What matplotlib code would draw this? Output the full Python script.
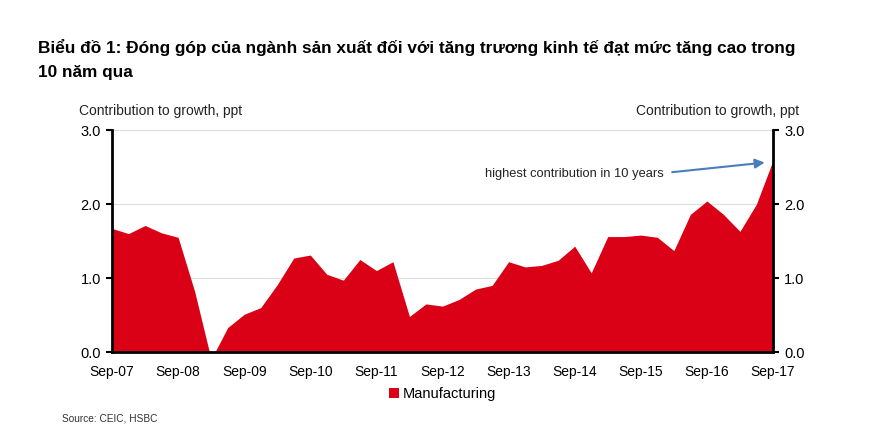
import matplotlib
matplotlib.use("Agg")
import matplotlib.pyplot as plt
import numpy as np

plt.rcParams['font.family'] = ['Liberation Sans', 'DejaVu Sans']

quarters = ["Sep-07", "Dec-07", "Mar-08", "Jun-08", "Sep-08", "Dec-08", "Mar-09", "Jun-09",
            "Sep-09", "Dec-09", "Mar-10", "Jun-10", "Sep-10", "Dec-10", "Mar-11", "Jun-11",
            "Sep-11", "Dec-11", "Mar-12", "Jun-12", "Sep-12", "Dec-12", "Mar-13", "Jun-13",
            "Sep-13", "Dec-13", "Mar-14", "Jun-14", "Sep-14", "Dec-14", "Mar-15", "Jun-15",
            "Sep-15", "Dec-15", "Mar-16", "Jun-16", "Sep-16", "Dec-16", "Mar-17", "Jun-17",
            "Sep-17"]
manufacturing = [1.67, 1.60, 1.71, 1.61, 1.55, 0.82, -0.10, 0.33,
                 0.51, 0.60, 0.91, 1.27, 1.31, 1.05, 0.97, 1.25,
                 1.10, 1.22, 0.48, 0.65, 0.62, 0.71, 0.85, 0.90,
                 1.22, 1.15, 1.17, 1.24, 1.43, 1.07, 1.56, 1.56,
                 1.58, 1.55, 1.37, 1.86, 2.04, 1.86, 1.63, 2.00,
                 2.59]
tick_labels = ["Sep-07", "Sep-08", "Sep-09", "Sep-10", "Sep-11", "Sep-12",
               "Sep-13", "Sep-14", "Sep-15", "Sep-16", "Sep-17"]
y_ticks = [0.0, 1.0, 2.0, 3.0]

red = '#da0015'
W, H = 872, 448
fig = plt.figure(figsize=(W / 100, H / 100), dpi=100)
ax = fig.add_axes([112 / W, 1 - 352 / H, (773 - 112) / W, (352 - 130) / H])

x = np.arange(len(quarters))
y = np.array(manufacturing)
ax.fill_between(x, 0, y, color=red, linewidth=0, zorder=2, label="Manufacturing")

ax.set_xlim(0, len(quarters) - 1)
ax.set_ylim(0, 3.0)
ax.set_yticks(y_ticks)
ax.set_yticklabels([f"{v:.1f}" for v in y_ticks])
ax.set_xticks([i for i, q in enumerate(quarters) if q in tick_labels])
ax.set_xticklabels(tick_labels)
ax.grid(axis='y', color='#dddddd', linewidth=0.8, zorder=0)
ax.set_axisbelow(True)

ax.spines['top'].set_visible(False)
for s in ['left', 'right', 'bottom']:
    ax.spines[s].set_linewidth(2.0)
    ax.spines[s].set_color('black')
    ax.spines[s].set_zorder(3)

ax.tick_params(axis='y', labelsize=10.5, length=4, width=1.5, pad=4, left=True, right=True,
               labelleft=True, labelright=True, colors='black')
ax.tick_params(axis='x', labelsize=10, length=0, pad=9)

ax.text(-0.05, 1.055, "Contribution to growth, ppt", transform=ax.transAxes,
        ha='left', va='bottom', fontsize=10, color='#222222')
ax.text(1.04, 1.055, "Contribution to growth, ppt", transform=ax.transAxes,
        ha='right', va='bottom', fontsize=10, color='#222222')

ax.annotate("", xy=(39.5, 2.56), xytext=(33.9, 2.43),
            arrowprops=dict(arrowstyle='-|>', color='#4a7ebb', lw=1.5,
                            mutation_scale=14, shrinkA=0, shrinkB=0), zorder=5)
ax.text(33.4, 2.41, "highest contribution in 10 years", ha='right', va='center',
        fontsize=9.3, color='#222222')

leg = ax.legend(loc='upper center', bbox_to_anchor=(0.50, -0.1), frameon=False,
                fontsize=10.5, handlelength=0.7, handleheight=0.7, handletextpad=0.3)

fig.text(38 / W, 1 - 48 / H,
         "Biểu đồ 1: Đóng góp của ngành sản xuất đối với tăng trương kinh tế đạt mức tăng cao trong",
         ha='left', va='center', fontsize=12.4, fontweight='bold', color='black')
fig.text(38 / W, 1 - 73 / H, "10 năm qua",
         ha='left', va='center', fontsize=12.4, fontweight='bold', color='black')
fig.text(62 / W, 1 - 418 / H, "Source: CEIC, HSBC", ha='left', va='center',
         fontsize=7.3, color='#333333')

fig.savefig("out.png", dpi=100, facecolor='white')
